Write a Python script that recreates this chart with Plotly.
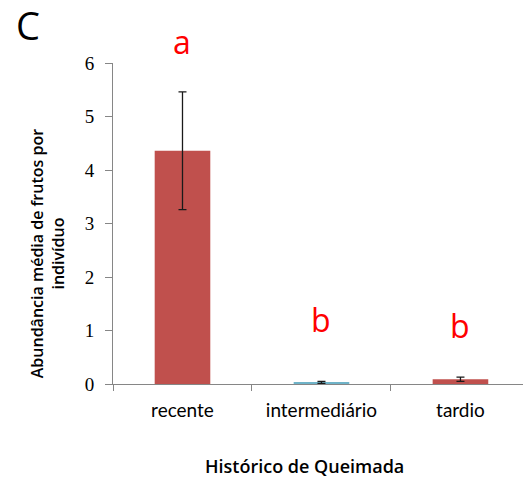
import plotly.graph_objects as go

categories = ["recente", "intermediário", "tardio"]
means = [4.36, 0.03, 0.09]
errors = [1.1, 0.02, 0.04]
letters = ["a", "b", "b"]
letter_y = [6.4, 1.2, 1.1]
y_ticks = [0, 1, 2, 3, 4, 5, 6]
y_max = 6

bar_colors = ["#C0504D", "#6FB3C8", "#C0504D"]

fig = go.Figure()
fig.add_trace(go.Bar(
    x=categories, y=means, width=0.4,
    marker=dict(color=bar_colors, line=dict(width=0)),
    error_y=dict(type="data", array=errors, visible=True, color="#1a1a1a", thickness=1.3, width=4),
))

for c, l, ly in zip(categories, letters, letter_y):
    fig.add_annotation(x=c, y=ly / y_max, text=l, showarrow=False, xref="x", yref="paper",
                       yanchor="middle", xanchor="center",
                       font=dict(family="Open Sans", size=32, color="#FF0000"))

fig.add_annotation(x=-0.207, y=1.118, xref="paper", yref="paper", xanchor="center", yanchor="middle",
                   text="C", showarrow=False, font=dict(family="Open Sans", size=38, color="black"))

fig.add_annotation(x=-0.158, y=0.405, xref="paper", yref="paper", xanchor="center", yanchor="middle",
                   text="Abundância média de frutos por<br>indivíduo", textangle=-90, showarrow=False,
                   font=dict(family="Open Sans", size=16, color="black", weight=600))

fig.add_annotation(x=0.468, y=-0.255, xref="paper", yref="paper", xanchor="center", yanchor="middle",
                   text="Histórico de Queimada", showarrow=False,
                   font=dict(family="Open Sans", size=18, color="black", weight=600))

fig.update_layout(
    width=523, height=479,
    margin=dict(l=113, r=0, t=63, b=95),
    paper_bgcolor="white", plot_bgcolor="white",
    showlegend=False,
    xaxis=dict(
        range=[-0.5, 2.45], showline=True, linecolor="#868686", linewidth=1,
        ticks="outside", tickson="boundaries", ticklen=6, tickcolor="#868686",
        tickfont=dict(family="Lato", size=19, color="black"),
        ticklabelstandoff=9,
        showgrid=False, zeroline=False,
    ),
    yaxis=dict(
        range=[0, y_max], tickvals=y_ticks, showline=True, linecolor="#868686", linewidth=1,
        ticks="outside", ticklen=7, tickcolor="#868686",
        tickfont=dict(family="Liberation Serif", size=19, color="black"),
        ticklabelstandoff=7,
        showgrid=False, zeroline=False,
    ),
)

fig.write_html("out.html")
